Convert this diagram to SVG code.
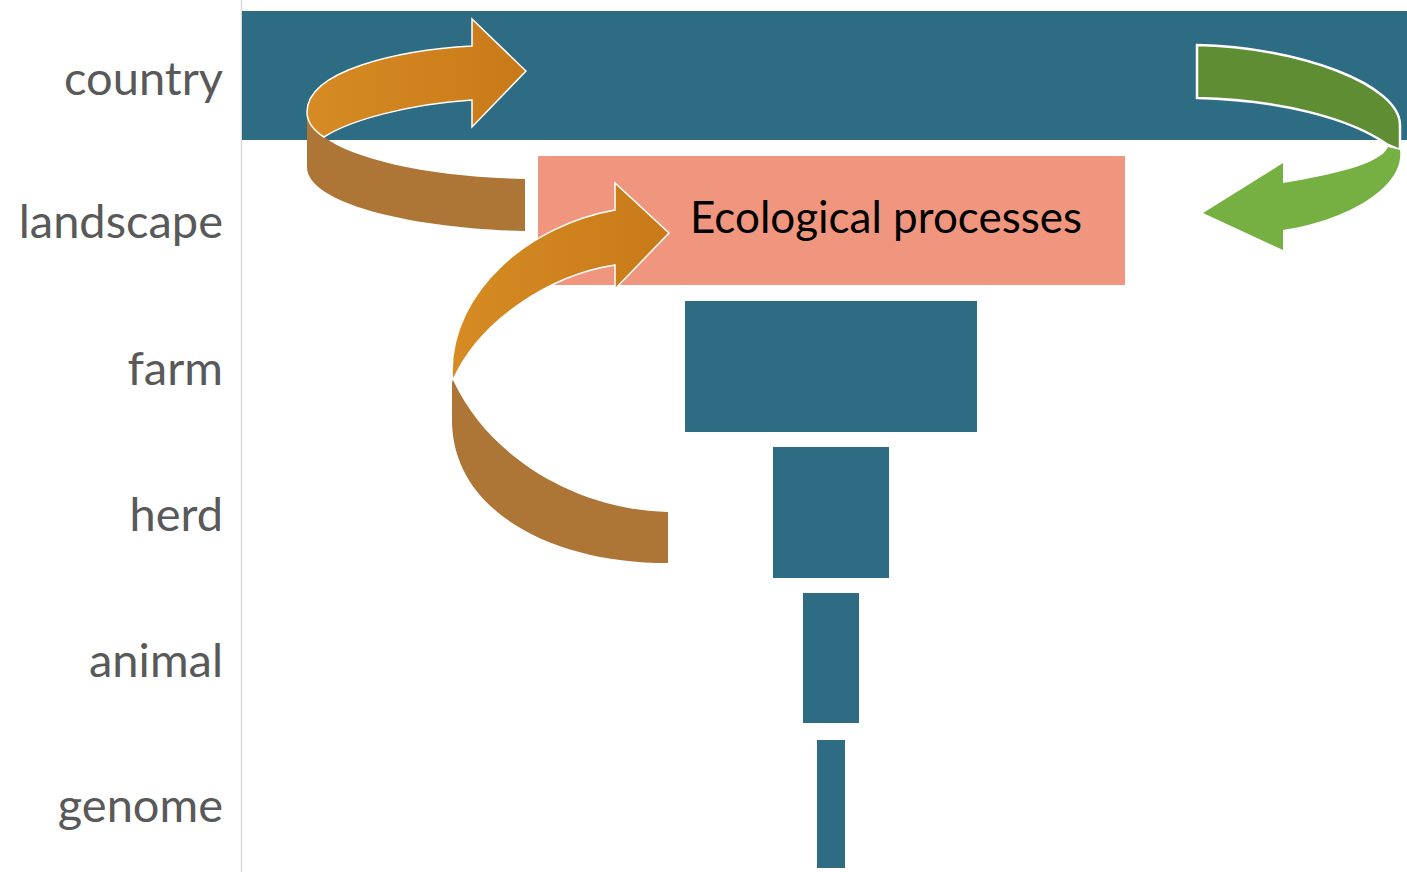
<svg xmlns="http://www.w3.org/2000/svg" width="1407" height="872" viewBox="0 0 1407 872">
<style>
.lbl{font-family:"Lato","Open Sans","DejaVu Sans",sans-serif;font-size:47px;fill:#595959;text-anchor:end}
.bar{fill:#2E6C84}
.ttl{font-family:"Lato","Open Sans","DejaVu Sans",sans-serif;font-size:44px;fill:#000}
.outl{stroke:#fff;stroke-width:1.5;stroke-linejoin:miter}
</style>
<defs>
<linearGradient id="orF" x1="0" y1="0" x2="1" y2="0">
<stop offset="0" stop-color="#D68B24"/><stop offset="1" stop-color="#C87A18"/>
</linearGradient>
</defs>
<rect width="1407" height="872" fill="#fff"/>
<line x1="241.5" y1="0" x2="241.5" y2="872" stroke="#D9D9D9" stroke-width="1.5"/>
<g id="labels">
<text class="lbl" x="223" y="95">country</text>
<text class="lbl" x="223" y="238">landscape</text>
<text class="lbl" x="223" y="385">farm</text>
<text class="lbl" x="223" y="531">herd</text>
<text class="lbl" x="223" y="677">animal</text>
<text class="lbl" x="223" y="822">genome</text>
</g>
<g id="country"><rect class="bar" x="242" y="11" width="1165" height="129"/></g>
<g id="landscape"><rect x="538" y="156" width="587" height="129" fill="#F1967E"/></g>
<g id="farm"><rect class="bar" x="685" y="301" width="292" height="131"/></g>
<g id="herd"><rect class="bar" x="773" y="447" width="116" height="131"/></g>
<g id="animal"><rect class="bar" x="803" y="593" width="56" height="130"/></g>
<g id="genome"><rect class="bar" x="817" y="740" width="28" height="128"/></g>
<g id="connectors">
<path d="M307,110 L307,167 C307,205 420,229 525,231 L525,179 C430,177 355,160 324,137 C312,130 307,120 307,110 Z" fill="#AD7536"/>
<path class="outl" d="M307,112 C307,70 400,50 472,46 L472,19 L526,71 L472,127 L472,100 C410,104 350,120 324,137 C313,130 307,122 307,112 Z" fill="url(#orF)"/>
<path d="M452,368 L452,420 C452,510 550,563 668,563 L668,512 C580,510 490,460 453,380 Z" fill="#AD7536"/>
<path class="outl" d="M452,372 C452,290 530,225 615,210 L615,183 L669,233 L615,289 L615,265 C550,275 480,320 453,380 C452,377 452,375 452,372 Z" fill="url(#orF)"/>
<path d="M1197,45 C1300,47 1400,85 1400,125 L1400,150 L1388,145 C1350,118 1280,100 1197,98 Z" fill="#5F8D33" stroke="#fff" stroke-width="2.5"/>
<path d="M1400,150 C1405,190 1340,222 1283,230 L1283,250 L1203,213 L1283,163 L1283,183 C1330,175 1380,165 1388,147 Z" fill="#76AF42"/>
</g>
<g id="ecological"><text class="ttl" x="690" y="233">Ecological processes</text></g>
</svg>
